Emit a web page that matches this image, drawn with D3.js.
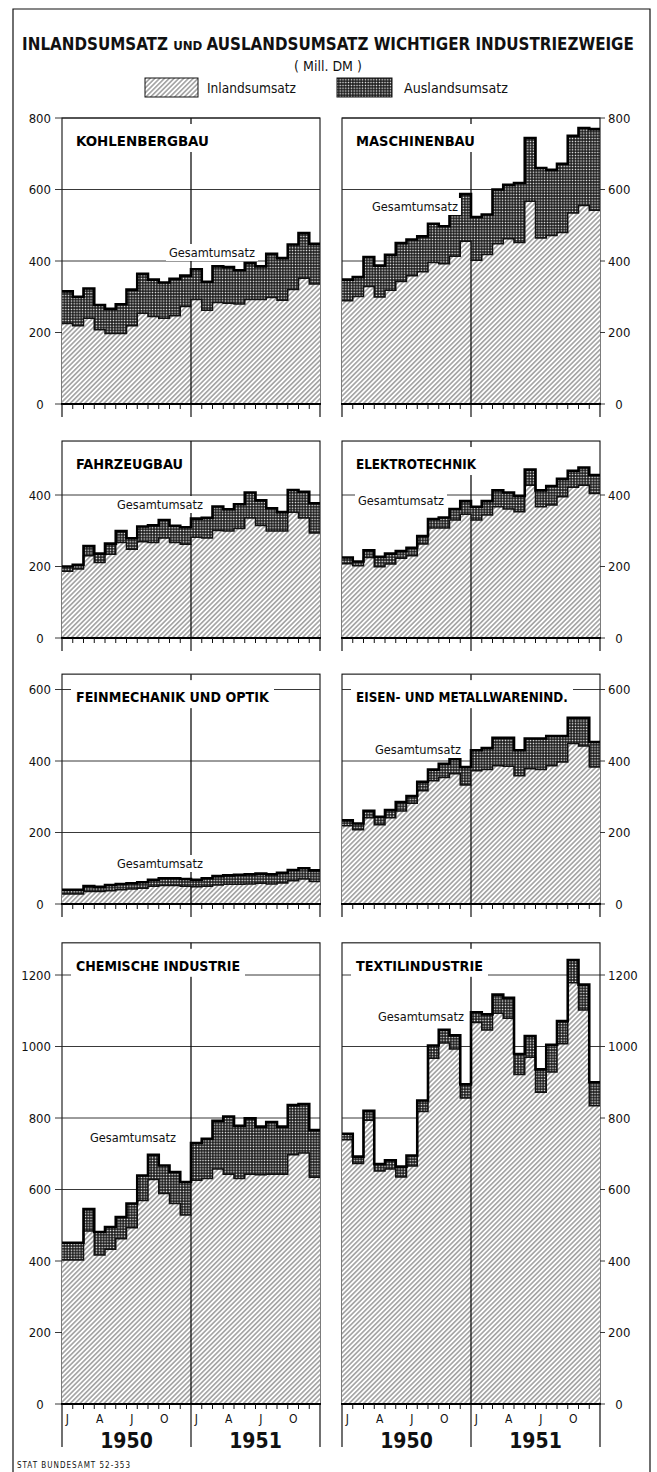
<!DOCTYPE html>
<html><head><meta charset="utf-8">
<script src="https://cdn.jsdelivr.net/npm/d3@7"></script>
<style>body{margin:0;background:#fff}</style>
</head><body>
<svg id="c" width="657" height="1472"></svg>
<script>
// ---------- DATA ----------
const years = ["1950", "1951"];
const monthLabels = ["J","","","A","","","J","","","O","",""];
const industries = ["KOHLENBERGBAU","MASCHINENBAU","FAHRZEUGBAU","ELEKTROTECHNIK",
  "FEINMECHANIK UND OPTIK","EISEN- UND METALLWARENIND.","CHEMISCHE INDUSTRIE","TEXTILINDUSTRIE"];

const kohleGesamt = [315,300,323,277,266,279,320,364,348,340,350,359,377,342,385,383,374,394,385,420,408,446,478,448];
const kohleInland = [225,219,240,208,197,197,219,254,245,240,247,273,292,262,284,282,280,292,292,298,290,320,352,336];
const maschGesamt = [348,355,411,387,417,450,460,469,504,497,530,587,523,530,600,613,618,744,660,655,672,750,772,769];
const maschInland = [289,301,329,299,318,343,359,370,396,392,413,455,402,418,448,462,452,567,464,471,480,534,555,542];
const fahrGesamt  = [200,205,257,236,264,299,279,312,315,330,314,310,334,336,368,360,374,407,385,363,352,414,409,377];
const fahrInland  = [187,193,230,211,234,267,248,269,267,280,267,262,282,280,301,299,306,336,315,299,299,352,336,294];
const elekGesamt  = [225,214,245,227,236,243,252,285,333,337,361,383,367,383,413,407,397,471,413,425,445,468,477,456];
const elekInland  = [208,202,225,199,207,223,230,263,308,308,330,346,330,344,367,361,353,427,367,372,395,422,427,404];
const feinGesamt  = [40,40,50,48,53,56,58,61,68,72,72,70,68,72,78,80,82,83,85,83,87,95,100,94];
const feinInland  = [28,28,35,35,37,40,42,44,50,52,52,50,48,50,53,55,55,56,58,56,59,65,70,63];
const eisenGesamt = [234,225,261,244,263,285,302,342,376,392,406,383,430,436,465,465,430,463,463,470,470,521,521,453];
const eisenInland = [219,208,241,222,241,260,282,317,345,354,364,333,373,376,387,385,359,378,376,387,397,449,442,383];
const chemGesamt  = [451,451,545,481,495,523,561,639,697,667,649,621,730,742,792,804,778,799,776,789,776,836,839,766];
const chemInland  = [403,403,484,417,433,462,493,569,628,589,561,529,626,631,657,643,631,643,641,643,643,697,702,634];
const textGesamt  = [756,692,820,671,682,664,695,849,1003,1047,1031,894,1096,1090,1145,1136,979,1029,936,1005,1071,1242,1173,900];
const textInland  = [739,673,794,652,657,635,666,818,967,1010,993,856,1067,1046,1093,1079,922,970,872,929,1008,1178,1102,834];

const rowMax   = [800, 551, 643, 1290];
const rowTicks = [[0,200,400,600,800],[0,200,400],[0,200,400,600],[0,200,400,600,800,1000,1200]];

// ---------- LAYOUT ----------
const colX = [62, 342], panelW = 258;
const rowBase = [404, 638, 904, 1404];
const pxPerUnit = 0.3575;
const FONT = "'DejaVu Sans Condensed','DejaVu Sans',sans-serif";

const panels = [
  {tot: kohleGesamt, inl: kohleInland, row:0, col:0, tw:133, lx:169, ly:257},
  {tot: maschGesamt, inl: maschInland, row:0, col:1, tw:119, lx:372, ly:211},
  {tot: fahrGesamt,  inl: fahrInland,  row:1, col:0, tw:107, lx:117, ly:509},
  {tot: elekGesamt,  inl: elekInland,  row:1, col:1, tw:120, lx:358, ly:505},
  {tot: feinGesamt,  inl: feinInland,  row:2, col:0, tw:193, lx:117, ly:868},
  {tot: eisenGesamt, inl: eisenInland, row:2, col:1, tw:212, lx:375, ly:754},
  {tot: chemGesamt,  inl: chemInland,  row:3, col:0, tw:164, lx:90,  ly:1142},
  {tot: textGesamt,  inl: textInland,  row:3, col:1, tw:127, lx:378, ly:1021}
];

function fit(sel, w) {
  const fs = +sel.attr("font-size");
  const cur = sel.node().getComputedTextLength();
  if (cur > 0) sel.attr("font-size", (fs * w / cur).toFixed(2));
  return sel;
}

const svg = d3.select("#c");
const defs = svg.append("defs");
const ph = defs.append("pattern").attr("id","hatch").attr("patternUnits","userSpaceOnUse")
  .attr("width",3.4).attr("height",3.4).attr("patternTransform","rotate(45)");
ph.append("rect").attr("width",3.4).attr("height",3.4).attr("fill","#fff");
ph.append("line").attr("x1",1.7).attr("y1",0).attr("x2",1.7).attr("y2",3.4)
  .attr("stroke","#333").attr("stroke-width",0.75);
const pg = defs.append("pattern").attr("id","grid").attr("patternUnits","userSpaceOnUse")
  .attr("width",2.8).attr("height",2.8);
pg.append("rect").attr("width",2.8).attr("height",2.8).attr("fill","#141414");
pg.append("rect").attr("x",0.7).attr("y",0.7).attr("width",1.4).attr("height",1.4).attr("fill","#fff");

svg.append("path").attr("d","M13,1472 V9 H650 V1472").attr("fill","none").attr("stroke","#111").attr("stroke-width",1.2);

const title = svg.append("text").attr("x",328).attr("y",50).attr("text-anchor","middle")
  .attr("font-family",FONT).attr("font-weight","bold").attr("fill","#111").attr("font-size",18);
title.append("tspan").text("INLANDSUMSATZ ");
title.append("tspan").attr("font-size","0.78em").text("UND ");
title.append("tspan").text("AUSLANDSUMSATZ WICHTIGER INDUSTRIEZWEIGE");
fit(title, 612);
svg.append("text").attr("x",328).attr("y",71).attr("text-anchor","middle")
  .attr("font-family",FONT).attr("font-size",14).attr("fill","#111").text("( Mill. DM )");

const leg = [{x:145, w:53, fill:"url(#hatch)", label:"Inlandsumsatz", tx:207, tw:89},
             {x:337, w:55, fill:"url(#grid)",  label:"Auslandsumsatz", tx:404, tw:104}];
leg.forEach(l => {
  svg.append("rect").attr("x",l.x).attr("y",78).attr("width",l.w).attr("height",19)
    .attr("fill",l.fill).attr("stroke","#111").attr("stroke-width",1);
  fit(svg.append("text").attr("x",l.tx).attr("y",93).attr("font-family",FONT).attr("font-size",13)
    .attr("fill","#111").text(l.label), l.tw);
});

panels.forEach((p, pi) => {
  const x0 = colX[p.col], base = rowBase[p.row];
  const ymax = rowMax[p.row];
  const top = base - ymax * pxPerUnit;
  const x = d3.scaleLinear().domain([0,24]).range([x0, x0 + panelW]);
  const y = d3.scaleLinear().domain([0, ymax]).range([base, top]);
  const g = svg.append("g");
  const data = p.tot.map((t,i) => ({i, t, n: p.inl[i]}));
  data.push({i:24, t:p.tot[23], n:p.inl[23]});

  g.append("rect").attr("x",x0).attr("y",top).attr("width",panelW).attr("height",base-top)
    .attr("fill","#fff").attr("stroke","#111").attr("stroke-width",1.1);

  const left = p.col === 0;
  rowTicks[p.row].forEach(v => {
    if (v > 0) g.append("line").attr("x1",x0).attr("x2",x0+panelW).attr("y1",y(v)).attr("y2",y(v))
      .attr("stroke","#222").attr("stroke-width",0.9);
    if (left) g.append("line").attr("x1",x0-7).attr("x2",x0).attr("y1",y(v)).attr("y2",y(v)).attr("stroke","#222").attr("stroke-width",0.9);
    else g.append("line").attr("x1",x0+panelW).attr("x2",x0+panelW+5).attr("y1",y(v)).attr("y2",y(v)).attr("stroke","#222").attr("stroke-width",0.9);
    let lx, anchor;
    if (left) { if (v === 0) { lx = x0-22; anchor = "middle"; } else { lx = x0-11; anchor = "end"; } }
    else { if (v === 0) { lx = x0+panelW+19; anchor = "middle"; } else { lx = x0+panelW+8; anchor = "start"; } }
    g.append("text").attr("x",lx).attr("y",y(v)).attr("dy","0.36em").attr("text-anchor",anchor)
      .attr("font-family",FONT).attr("font-size",13).attr("fill","#111").text(v);
  });

  g.append("line").attr("x1",x(12)).attr("x2",x(12)).attr("y1",top).attr("y2",base)
    .attr("stroke","#111").attr("stroke-width",1.3);

  const areaIn = d3.area().curve(d3.curveStepAfter).x(d=>x(d.i)).y0(y(0)).y1(d=>y(d.n));
  const areaOut = d3.area().curve(d3.curveStepAfter).x(d=>x(d.i)).y0(d=>y(d.n)).y1(d=>y(d.t));
  g.append("path").attr("d",areaIn(data)).attr("fill","url(#hatch)");
  g.append("path").attr("d",areaOut(data)).attr("fill","url(#grid)");
  g.append("line").attr("x1",x(12)).attr("x2",x(12)).attr("y1",y(Math.min(p.inl[11], p.inl[12]))).attr("y2",base)
    .attr("stroke","#111").attr("stroke-width",1.3);
  const lineIn = d3.line().curve(d3.curveStepAfter).x(d=>x(d.i)).y(d=>y(d.n));
  const lineTot = d3.line().curve(d3.curveStepAfter).x(d=>x(d.i)).y(d=>y(d.t));
  g.append("path").attr("d",lineIn(data)).attr("fill","none").attr("stroke","#111").attr("stroke-width",1.5);
  g.append("path").attr("d",lineTot(data)).attr("fill","none").attr("stroke","#000").attr("stroke-width",2.6);

  g.append("line").attr("x1",x0-1).attr("x2",x0+panelW+1).attr("y1",base).attr("y2",base)
    .attr("stroke","#000").attr("stroke-width",2);
  const bottomRow = p.row === 3;
  d3.range(25).forEach(i => {
    const long = i % 12 === 0;
    const y2 = long ? (bottomRow ? 1447 : base + 13) : base + 5;
    g.append("line").attr("x1",x(i)).attr("x2",x(i)).attr("y1",base).attr("y2",y2)
      .attr("stroke","#111").attr("stroke-width", long ? 1.2 : 1);
  });
  if (bottomRow) {
    d3.range(24).forEach(i => {
      const lab = monthLabels[i % 12];
      if (lab) g.append("text").attr("x",x(i+0.5)).attr("y",1423).attr("text-anchor","middle")
        .attr("font-family",FONT).attr("font-size",12).attr("fill","#111").text(lab);
    });
    years.forEach((yr, k) => {
      g.append("text").attr("x",x(k*12+6)).attr("y",1448).attr("text-anchor","middle")
        .attr("font-family",FONT).attr("font-weight","bold").attr("font-size",21).attr("fill","#111").text(yr);
    });
  }

  g.append("rect").attr("fill","#fff").attr("x",x0+9).attr("y",top+6).attr("width",p.tw+10).attr("height",28);
  fit(g.append("text").attr("x",x0+14).attr("y",top+28).attr("font-family",FONT)
    .attr("font-weight","bold").attr("font-size",14).attr("fill","#000").text(industries[pi]), p.tw);

  g.append("rect").attr("fill","#fff").attr("x",p.lx-3).attr("y",p.ly-13).attr("width",92).attr("height",17);
  fit(g.append("text").attr("x",p.lx).attr("y",p.ly).attr("font-family",FONT).attr("font-size",12.5)
    .attr("fill","#111").text("Gesamtumsatz"), 86);
});

svg.append("text").attr("x",17).attr("y",1468).attr("font-family",FONT).attr("font-size",8)
  .attr("letter-spacing",1).attr("fill","#111").text("STAT BUNDESAMT 52-353");
</script>
</body></html>
